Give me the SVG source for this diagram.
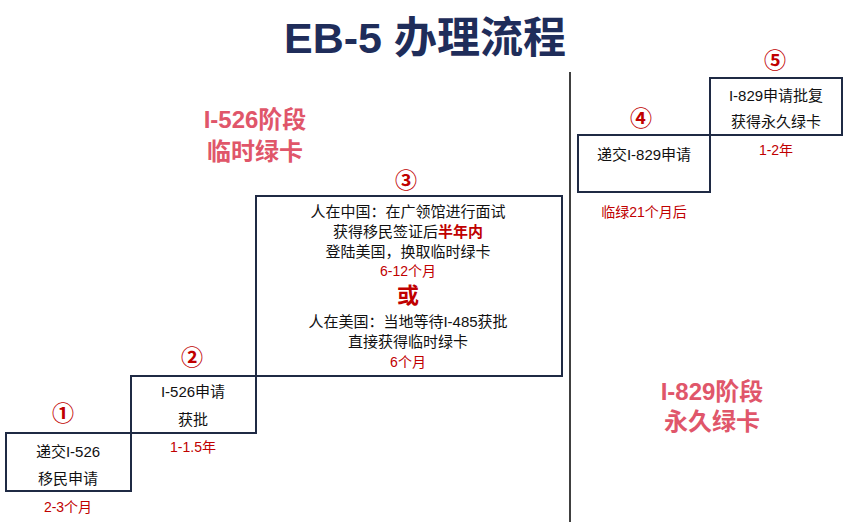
<svg xmlns="http://www.w3.org/2000/svg" width="853" height="522" viewBox="0 0 853 522">
<style>
text{font-family:"Liberation Sans","Noto Sans CJK SC",sans-serif;text-anchor:middle}
.box{fill:#fff;stroke:#1f2a44;stroke-width:2}
.t{font-size:15px;fill:#111}
.r{font-size:14px;fill:#c00000}
.n{font-size:22px;fill:#c00000;font-weight:bold}
.st{font-size:24px;fill:#e0566a;font-weight:bold}
</style>
<rect width="853" height="522" fill="#fff"/>
<text x="425" y="53" font-size="43" font-weight="bold" fill="#1f2d5a">EB-5 办理流程</text>
<line x1="570" y1="72" x2="570" y2="522" stroke="#404040" stroke-width="2"/>
<text class="st" x="255" y="128">I-526阶段</text>
<text class="st" x="255" y="160">临时绿卡</text>
<text class="st" x="712" y="400">I-829阶段</text>
<text class="st" x="712" y="430">永久绿卡</text>
<g id="n1"><rect class="box" x="6" y="433" width="125" height="58"/>
<text class="t" x="68" y="457">递交I-526</text><text class="t" x="68" y="484">移民申请</text>
<text class="n" x="63" y="421">①</text><text class="r" x="68" y="512">2-3个月</text></g>
<g id="n2"><rect class="box" x="131" y="376" width="125" height="57"/>
<text class="t" x="193" y="397">I-526申请</text><text class="t" x="193" y="425">获批</text>
<text class="n" x="192" y="365">②</text><text class="r" x="193" y="452">1-1.5年</text></g>
<g id="n3"><rect class="box" x="256" y="196" width="306" height="180"/>
<text class="n" x="406" y="188">③</text>
<text class="t" x="408" y="217">人在中国：在广领馆进行面试</text>
<text class="t" x="408" y="237">获得移民签证后<tspan fill="#c00000" font-weight="bold">半年内</tspan></text>
<text class="t" x="408" y="257">登陆美国，换取临时绿卡</text>
<text class="r" x="408" y="276">6-12个月</text>
<text x="408" y="303" font-size="22" font-weight="bold" fill="#c00000">或</text>
<text class="t" x="408" y="327">人在美国：当地等待I-485获批</text>
<text class="t" x="408" y="347">直接获得临时绿卡</text>
<text class="r" x="408" y="367">6个月</text></g>
<g id="n4"><rect class="box" x="578" y="135" width="132" height="57"/>
<text class="t" x="644" y="160">递交I-829申请</text>
<text class="n" x="641" y="126">④</text><text class="r" x="644" y="217">临绿21个月后</text></g>
<g id="n5"><rect class="box" x="710" y="78" width="132" height="57"/>
<text class="t" x="776" y="101">I-829申请批复</text><text class="t" x="776" y="127">获得永久绿卡</text>
<text class="n" x="775" y="68">⑤</text><text class="r" x="776" y="155">1-2年</text></g>
<g id="connectors"></g>
</svg>
